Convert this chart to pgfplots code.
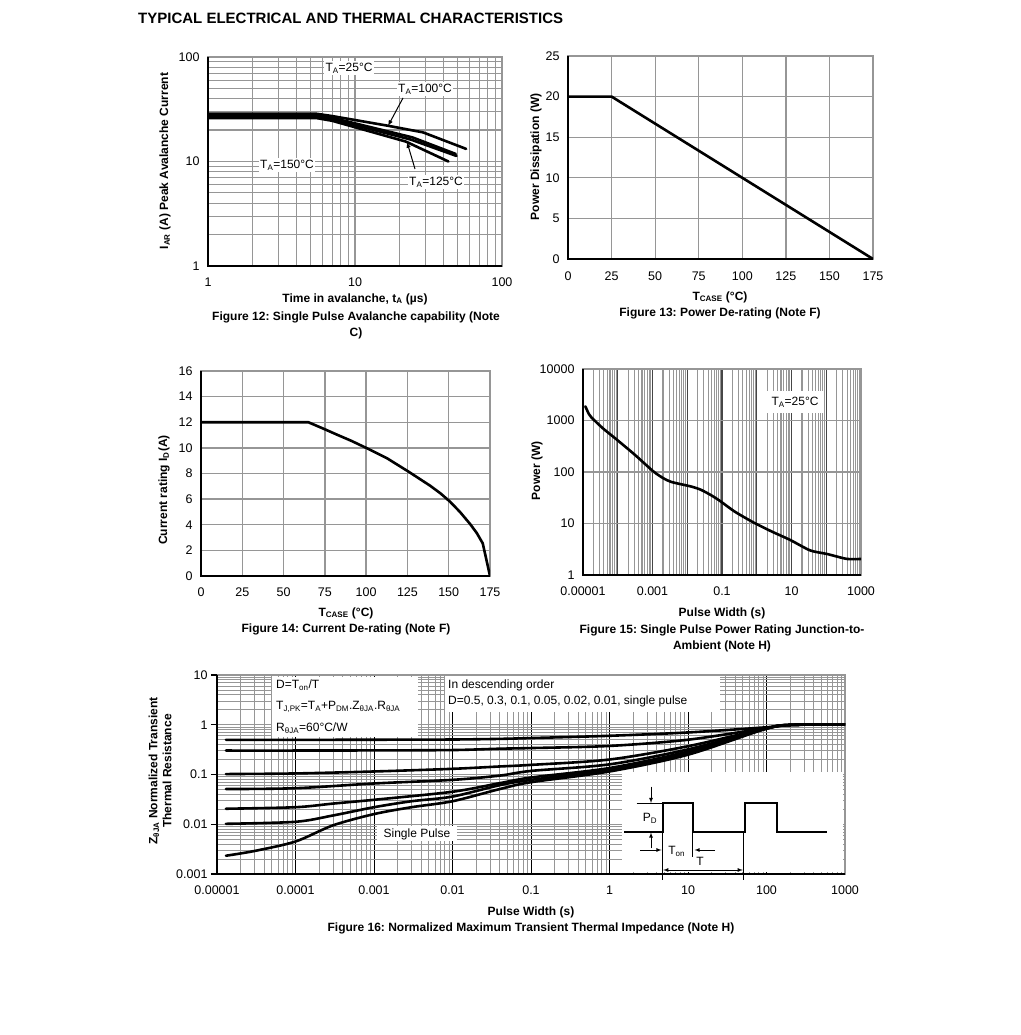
\documentclass[border=0pt]{standalone}
\usepackage{fontspec}
\setmainfont{Liberation Sans}
\usepackage{pgfplots}
\pgfplotsset{compat=1.18}
\definecolor{gridgray}{RGB}{150,150,150}
\definecolor{darkgrid}{RGB}{70,70,70}
\pgfplotsset{
  base/.style={
    scale only axis, anchor=south west,
    font=\fontsize{12.5}{14}\selectfont,
    /pgf/number format/assume math mode=true,
    axis line style={draw=gridgray, line width=1.2pt},
    major grid style={draw=gridgray, line width=1.3pt},
    minor grid style={draw=gridgray, line width=1.1pt},
    major tick length=0pt, minor tick length=0pt,
    xticklabel style={yshift=-8pt},
    yticklabel style={xshift=-5pt},
    after end axis/.code={\draw[black,line width=1.6pt] (rel axis cs:0,1) -- (rel axis cs:0,0) -- (rel axis cs:1,0);},
  },
  curve/.style={black, line width=2.6pt, no markers, line join=round, line cap=round},
}
\newcommand{\lbl}{\fontsize{12}{14}\selectfont\bfseries}
\newcommand{\txt}{\fontsize{12}{14}\selectfont}
\begin{document}
\frenchspacing
\begin{tikzpicture}
\path[use as bounding box] (0pt,0pt) rectangle (1020pt,1035pt);
\fill[white] (0pt,0pt) rectangle (1020pt,1035pt);

% Title
\node[anchor=west, font=\fontsize{15}{17}\selectfont\bfseries, inner sep=0pt] at (138pt,1017pt) {TYPICAL ELECTRICAL AND THERMAL CHARACTERISTICS};

% ---------------- Figure 12 ----------------
\begin{axis}[base, at={(208pt,769pt)}, width=294pt, height=209pt,
  xmode=log, ymode=log, xmin=1, xmax=100, ymin=1, ymax=100,
  xtick={1,10,100}, xticklabels={1,10,100},
  ytick={1,10,100}, yticklabels={1,10,100},
  grid=both]
\addplot[curve] coordinates {(1,28.6) (5.5,28.6) (7,27.2) (16.7,22) (29,19) (57,13.2)};
\addplot[curve] coordinates {(1,27.7) (5.5,27.7) (7,26.2) (24.6,17) (48.5,11.8)};
\addplot[curve] coordinates {(1,26.9) (5.5,26.9) (7,25.4) (24,16.2) (49,11.3)};
\addplot[curve] coordinates {(1,26.0) (5.5,26.0) (7,24.5) (22.2,15.5) (43.2,10)};
\end{axis}
\node[fill=white, inner sep=1.5pt, font=\txt] at (349pt,967pt) {T\textsubscript{A}=25°C};
\node[fill=white, inner sep=1.5pt, font=\txt] at (425pt,946pt) {T\textsubscript{A}=100°C};
\node[fill=white, inner sep=1.5pt, font=\txt] at (287pt,870pt) {T\textsubscript{A}=150°C};
\node[fill=white, inner sep=1.5pt, font=\txt] at (436pt,853pt) {T\textsubscript{A}=125°C};
\draw[line width=1pt, -latex] (403pt,937pt) -- (388pt,909pt);
\draw[line width=1pt, -latex] (415pt,866pt) -- (407pt,893pt);
\node[rotate=90, font=\lbl] at (165pt,874pt) {I\textsubscript{AR} (A) Peak Avalanche Current};
\node[font=\lbl] at (355pt,736pt) {Time in avalanche, t\textsubscript{A} (µs)};
\node[font=\lbl] at (356pt,718pt) {Figure 12: Single Pulse Avalanche capability (Note};
\node[font=\lbl] at (356pt,702pt) {C)};

% ---------------- Figure 13 ----------------
\begin{axis}[base, at={(568pt,776pt)}, width=305pt, height=203pt,
  xmin=0, xmax=175, ymin=0, ymax=25,
  xtick={0,25,...,175}, ytick={0,5,...,25}, grid=major,
  xticklabel style={yshift=-1pt}]
\addplot[curve] coordinates {(0,20) (25,20) (175,0)};
\end{axis}
\node[rotate=90, font=\lbl] at (536pt,878pt) {Power Dissipation (W)};
\node[font=\lbl] at (720pt,738pt) {T\textsubscript{CASE} (°C)};
\node[font=\lbl] at (720pt,722pt) {Figure 13: Power De-rating (Note F)};

% ---------------- Figure 14 ----------------
\begin{axis}[base, at={(201pt,459pt)}, width=289pt, height=205pt,
  xmin=0, xmax=175, ymin=0, ymax=16,
  xtick={0,25,...,175}, ytick={0,2,...,16}, grid=major]
\addplot[curve] coordinates {(0,12) (65,12) (75,11.45) (82,11.05) (91,10.55) (100,10) (112.5,9.2) (125.6,8.15) (138.7,7.05) (145,6.45) (150.8,5.8) (156.8,5.0) (163,4.05) (167,3.35) (170.6,2.55) (175,0)};
\end{axis}
\node[rotate=90, font=\lbl] at (164pt,545pt) {Current rating I\textsubscript{D}(A)};
\node[font=\lbl] at (346pt,422pt) {T\textsubscript{CASE} (°C)};
\node[font=\lbl] at (346pt,406pt) {Figure 14: Current De-rating (Note F)};

% ---------------- Figure 15 ----------------
\begin{axis}[base, at={(583pt,460pt)}, width=278pt, height=206pt,
  xmode=log, ymode=log, xmin=1e-5, xmax=1000, ymin=1, ymax=10000,
  xtick={1e-5,1e-4,1e-3,1e-2,1e-1,1,10,100,1000},
  xticklabels={0.00001,,0.001,,0.1,,10,,1000},
  ytick={1,10,100,1000,10000}, yticklabels={1,10,100,1000,10000},
  xmajorgrids, xminorgrids, ymajorgrids,
  major x grid style={draw=darkgrid, line width=1.1pt},
  minor x grid style={draw=gridgray, line width=1.1pt}]
\addplot[curve, smooth, tension=0.4] coordinates {(1.17e-5,1880) (1.46e-5,1350) (1.74e-5,1150) (3.78e-5,700) (9.2e-5,430) (3.1e-4,216) (1.07e-3,102) (2.03e-3,76) (3.5e-3,64) (1.33e-2,52) (2.5e-2,45) (5e-2,35) (8.7e-2,27.5) (0.233,17) (0.8,10.5) (2.68,7) (9.1,4.8) (34.4,3.0) (105,2.56) (394,2.05) (1000,2.05)};
\end{axis}
\node[fill=white, minimum width=56pt, minimum height=22pt, inner sep=1pt, font=\txt] at (795pt,633pt) {T\textsubscript{A}=25°C};
\node[rotate=90, font=\lbl] at (537pt,564pt) {Power (W)};
\node[font=\lbl] at (722pt,422pt) {Pulse Width (s)};
\node[font=\lbl] at (722pt,405pt) {Figure 15: Single Pulse Power Rating Junction-to-};
\node[font=\lbl] at (722pt,389pt) {Ambient (Note H)};

% ---------------- Figure 16 ----------------
\begin{axis}[base, at={(217pt,161pt)}, width=628pt, height=199pt,
  xmode=log, ymode=log, xmin=1e-5, xmax=1000, ymin=0.001, ymax=10,
  xtick={1e-5,1e-4,1e-3,1e-2,1e-1,1,10,100,1000},
  xticklabels={0.00001,0.0001,0.001,0.01,0.1,1,10,100,1000},
  ytick={0.001,0.01,0.1,1,10}, yticklabels={0.001,0.01,0.1,1,10},
  grid=both,
  major x grid style={draw=black, line width=0.9pt},
  major y grid style={draw=gridgray, line width=1.1pt},
  minor grid style={draw=gridgray, line width=0.8pt},
  xticklabel style={yshift=0pt}, yticklabel style={xshift=-1pt},
  after end axis/.append code={\foreach \r in {0,0.25,0.5,0.75,1} {\draw[black,line width=1.2pt] ([xshift=-6pt]rel axis cs:0,\r) -- (rel axis cs:0,\r);}}]
\addplot[curve, smooth, tension=0.5] coordinates {(1.3e-5,0.497) (1e-4,0.497) (1e-3,0.50) (0.01,0.505) (0.04,0.52) (0.1,0.54) (1,0.60) (10,0.70) (100,0.89) (200,0.99) (1000,1.02)};
\addplot[curve, smooth, tension=0.5] coordinates {(1.3e-5,0.303) (1e-4,0.303) (1e-3,0.305) (0.01,0.31) (0.04,0.33) (0.1,0.34) (1,0.375) (10,0.50) (100,0.86) (200,0.99) (1000,1.02)};
\addplot[curve, smooth, tension=0.5] coordinates {(1.3e-5,0.102) (1e-4,0.105) (1e-3,0.115) (0.01,0.13) (0.04,0.145) (0.1,0.156) (1,0.20) (10,0.37) (100,0.85) (200,0.99) (1000,1.02)};
\addplot[curve, smooth, tension=0.5] coordinates {(1.3e-5,0.051) (1e-4,0.053) (1e-3,0.066) (0.01,0.078) (0.04,0.095) (0.1,0.118) (1,0.16) (10,0.32) (100,0.84) (200,0.99) (1000,1.02)};
\addplot[curve, smooth, tension=0.5] coordinates {(1.3e-5,0.0205) (1e-4,0.022) (3e-4,0.026) (1e-3,0.031) (0.01,0.045) (0.04,0.067) (0.1,0.087) (1,0.135) (10,0.29) (100,0.84) (200,0.99) (1000,1.02)};
\addplot[curve, smooth, tension=0.5] coordinates {(1.3e-5,0.0102) (1e-4,0.0112) (3e-4,0.015) (1e-3,0.022) (3e-3,0.029) (0.01,0.036) (0.04,0.061) (0.1,0.078) (1,0.125) (10,0.27) (100,0.84) (200,0.99) (1000,1.02)};
\addplot[curve, smooth, tension=0.5] coordinates {(1.3e-5,0.00233) (3e-5,0.0029) (1e-4,0.0045) (3e-4,0.0095) (1e-3,0.016) (3e-3,0.022) (0.01,0.029) (0.04,0.051) (0.1,0.07) (1,0.115) (10,0.25) (100,0.84) (200,0.99) (1000,1.02)};
\end{axis}
% text boxes
\fill[white] (272pt,298pt) rectangle (418pt,358pt);
\node[anchor=west, font=\txt, inner sep=0pt] at (276pt,350pt) {D=T\textsubscript{on}/T};
\node[anchor=west, font=\txt, inner sep=0pt] at (276pt,328pt) {T\textsubscript{J,PK}=T\textsubscript{A}+P\textsubscript{DM}.Z\textsubscript{θJA}.R\textsubscript{θJA}};
\node[anchor=west, font=\txt, inner sep=0pt] at (276pt,307pt) {R\textsubscript{θJA}=60°C/W};
\fill[white] (445pt,323pt) rectangle (720pt,359pt);
\node[anchor=west, font=\txt, inner sep=0pt] at (448pt,350pt) {In descending order};
\node[anchor=west, font=\txt, inner sep=0pt] at (448pt,334pt) {D=0.5, 0.3, 0.1, 0.05, 0.02, 0.01, single pulse};
\node[fill=white, font=\txt, minimum width=80pt, minimum height=15pt, inner sep=1pt] at (417pt,201pt) {Single Pulse};
% inset
\fill[white] (622pt,163pt) rectangle (843pt,263pt);
\draw[line width=2pt, line join=miter] (624.3pt,203pt) -- (662.7pt,203pt) -- (662.7pt,231.7pt) -- (693.3pt,231.7pt) -- (693.3pt,203pt) -- (745pt,203pt) -- (745pt,231.7pt) -- (776.7pt,231.7pt) -- (776.7pt,203pt) -- (826.7pt,203pt);
\draw[line width=0.8pt] (636.7pt,231.7pt) -- (662.7pt,231.7pt);
\draw[line width=0.8pt, -latex] (651pt,248.3pt) -- (651pt,232pt);
\draw[line width=0.8pt, -latex] (651pt,186.7pt) -- (651pt,202.5pt);
\node[font=\txt] at (650pt,216.7pt) {P\textsubscript{D}};
\draw[line width=0.8pt, -latex] (640pt,185pt) -- (661.5pt,185pt);
\draw[line width=0.8pt, -latex] (715pt,185pt) -- (694.5pt,185pt);
\draw[line width=0.8pt] (692.3pt,202.3pt) -- (692.3pt,177.7pt);
\node[font=\txt] at (676.7pt,183.3pt) {T\textsubscript{on}};
\draw[line width=0.8pt] (662.7pt,202.3pt) -- (662.7pt,155pt);
\draw[line width=0.8pt] (743.3pt,202.3pt) -- (743.3pt,155pt);
\draw[line width=0.8pt, latex-latex] (663.2pt,165pt) -- (742.8pt,165pt);
\node[font=\txt] at (700pt,173.3pt) {T};
\node[rotate=90, font=\lbl, align=center] at (160pt,264pt) {Z\textsubscript{θJA} Normalized Transient\\Thermal Resistance};
\node[font=\lbl] at (531pt,123pt) {Pulse Width (s)};
\node[font=\lbl] at (531pt,107pt) {Figure 16: Normalized Maximum Transient Thermal Impedance (Note H)};
\end{tikzpicture}
\end{document}
